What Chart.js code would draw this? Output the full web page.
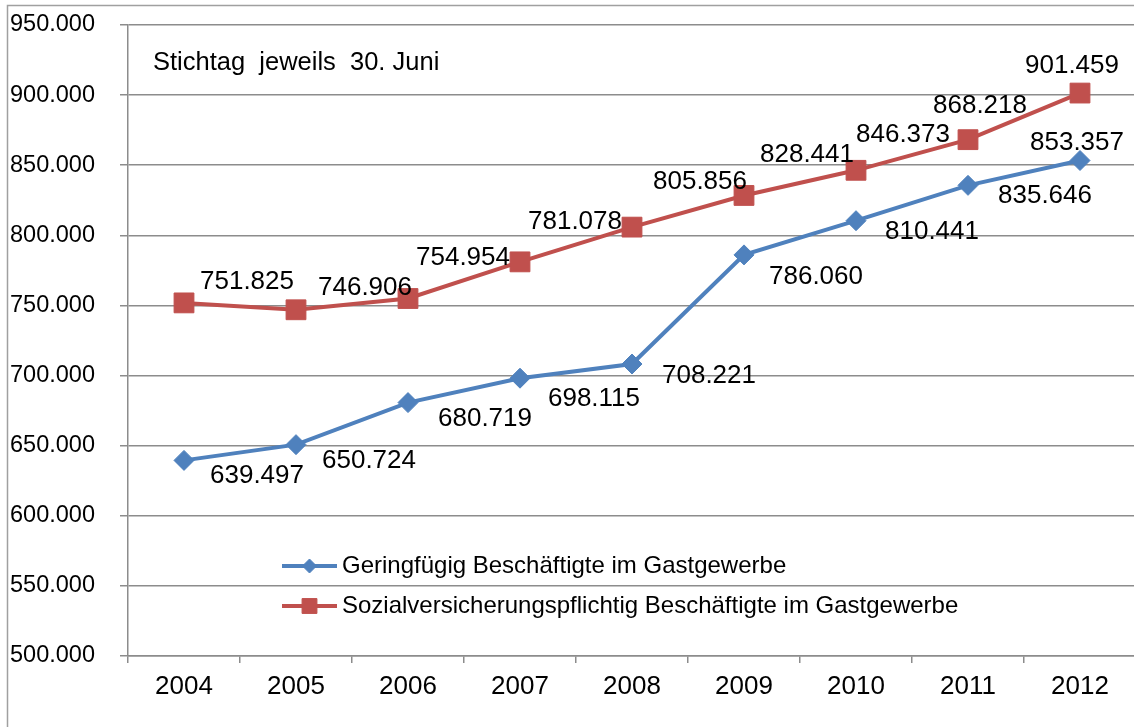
<!DOCTYPE html>
<html>
<head>
<meta charset="utf-8">
<script src="https://cdn.jsdelivr.net/npm/chart.js@4/dist/chart.umd.min.js"></script>
<style>
  html, body { margin: 0; padding: 0; background: #fff; overflow: hidden; }
  #wrap { position: absolute; left: 0; top: 0; width: 1151px; height: 727px; }
</style>
</head>
<body>
<div id="wrap"><canvas id="chart" width="1151" height="727"></canvas></div>
<script>
// --- data ---
const years = ['2004', '2005', '2006', '2007', '2008', '2009', '2010', '2011', '2012'];
const geringfuegig = [639497, 650724, 680719, 698115, 708221, 786060, 810441, 835646, 853357];
const sozialversichert = [751825, 746906, 754954, 781078, 805856, 828441, 846373, 868218, 901459];
const seriesNames = [
    'Geringfügig Beschäftigte im Gastgewerbe',
    'Sozialversicherungspflichtig Beschäftigte im Gastgewerbe'
];
const yMin = 500000, yMax = 950000, yStep = 50000;
const noteText = 'Stichtag  jeweils  30. Juni';

// label placement relative to each point (px)
const blueLabelShift = [[73,15],[73,16],[77,16],[74,21],[77,12],[72,22],[76,11],[77,10],[-3,-18]];
const redLabelShift = [[63,-21],[69,-22],[55,-41],[55,-40],[68,-45],[63,-41],[47,-35],[12,-34],[-8,-27]];

const BLUE = '#4F81BD', RED = '#C0504D', GRID = '#8c8c8c';
const FONT = '"Liberation Sans", Arial, sans-serif';

function fmt(v) { return String(v).replace(/\B(?=(\d{3})+(?!\d))/g, '.'); }

// value labels next to the points
const valueLabels = {
    id: 'valueLabels',
    afterDatasetsDraw(chart) {
        const ctx = chart.ctx;
        ctx.save();
        ctx.font = '26px ' + FONT;
        ctx.fillStyle = '#000';
        ctx.textAlign = 'center';
        ctx.textBaseline = 'middle';
        chart.data.datasets.forEach((ds, di) => {
            const shift = di === 0 ? blueLabelShift : redLabelShift;
            chart.getDatasetMeta(di).data.forEach((pt, i) => {
                ctx.fillText(fmt(ds.data[i]), pt.x + shift[i][0], pt.y + shift[i][1]);
            });
        });
        ctx.restore();
    }
};

// frame, note and the legend inside the plot
const extras = {
    id: 'extras',
    beforeDraw(chart) {
        const ctx = chart.ctx;
        ctx.save();
        ctx.strokeStyle = '#a0a0a0';
        ctx.lineWidth = 1.5;
        ctx.beginPath();
        ctx.moveTo(7.5, 727);
        ctx.lineTo(7.5, 5.5);
        ctx.lineTo(1151, 5.5);
        ctx.stroke();
        ctx.restore();
    },
    afterDraw(chart) {
        const ctx = chart.ctx;
        ctx.save();
        ctx.fillStyle = '#000';
        ctx.font = '25.5px ' + FONT;
        ctx.textBaseline = 'middle';
        ctx.textAlign = 'left';
        ctx.fillText(noteText, 153, 63);

        const rows = [
            { y: 566, color: BLUE, style: 'rectRot', r: 7, text: seriesNames[0] },
            { y: 606, color: RED, style: 'rect', r: 10.5, text: seriesNames[1] }
        ];
        rows.forEach(row => {
            ctx.strokeStyle = row.color;
            ctx.lineWidth = 4;
            ctx.beginPath();
            ctx.moveTo(282, row.y);
            ctx.lineTo(337, row.y);
            ctx.stroke();
            ctx.fillStyle = row.color;
            ctx.lineWidth = 1;
            Chart.helpers.drawPoint(ctx, { pointStyle: row.style, radius: row.r, borderWidth: 1, rotation: 0 }, 309.5, row.y);
            ctx.fillStyle = '#000';
            ctx.font = '24px ' + FONT;
            ctx.fillText(row.text, 342, row.y);
        });
        ctx.restore();
    }
};

new Chart(document.getElementById('chart'), {
    type: 'line',
    data: {
        labels: years,
        datasets: [
            {
                label: seriesNames[0],
                data: geringfuegig,
                borderColor: BLUE,
                backgroundColor: BLUE,
                borderWidth: 4,
                pointStyle: 'rectRot',
                pointRadius: 10,
                pointBorderWidth: 1,
                tension: 0
            },
            {
                label: seriesNames[1],
                data: sozialversichert,
                borderColor: RED,
                backgroundColor: RED,
                borderWidth: 4,
                pointStyle: 'rect',
                pointRadius: 14,
                pointBorderWidth: 1,
                tension: 0
            }
        ]
    },
    options: {
        responsive: false,
        devicePixelRatio: 1,
        animation: false,
        layout: { padding: { left: 10, top: 25, right: 4, bottom: 0 } },
        plugins: { legend: { display: false }, tooltip: { enabled: false } },
        scales: {
            x: {
                offset: true,
                grid: { offset: true, drawOnChartArea: false, drawTicks: true, tickLength: 7, color: GRID, lineWidth: 1.5 },
                border: { color: GRID, width: 1.5 },
                ticks: { color: '#000', font: { family: FONT, size: 26 }, padding: 8, maxRotation: 0 },
                afterFit(scale) { scale.height = 71; }
            },
            y: {
                min: yMin,
                max: yMax,
                grid: { color: GRID, lineWidth: 1.5, tickLength: 8 },
                border: { color: GRID, width: 1.5 },
                ticks: {
                    stepSize: yStep,
                    color: '#000',
                    font: { family: FONT, size: 23.5 },
                    crossAlign: 'far',
                    callback: v => fmt(v)
                },
                afterFit(scale) { scale.width = 118; }
            }
        }
    },
    plugins: [extras, valueLabels]
});
</script>
</body>
</html>
